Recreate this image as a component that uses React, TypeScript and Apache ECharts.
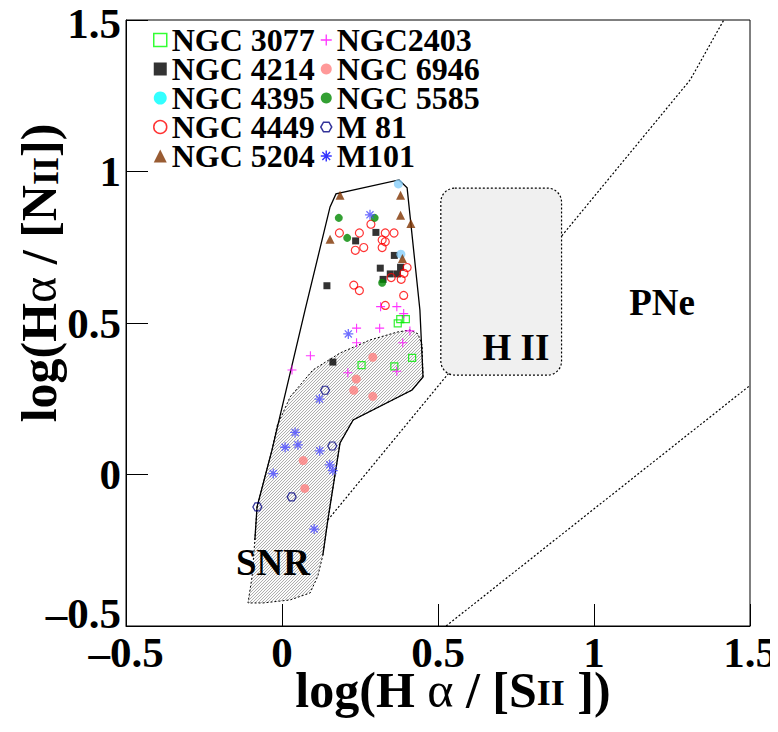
import React, { useEffect, useRef } from "react";
import * as echarts from "echarts";

const FONT = '"Liberation Serif", "DejaVu Serif", serif';

// ---- data (log Ha/[SII], log Ha/[NII]) ----
const ngc3077 = [[0.379, 0.513], [0.397, 0.513], [0.371, 0.499], [0.255, 0.361], [0.36, 0.357], [0.417, 0.385]];
const ngc4214 = [[0.301, 0.799], [0.236, 0.771], [0.36, 0.723], [0.38, 0.684], [0.315, 0.681], [0.347, 0.662], [0.37, 0.662], [0.324, 0.644], [0.144, 0.623], [0.163, 0.371]];
const ngc4395 = [[0.373, 0.959], [0.381, 0.727]];
const ngc4449 = [[0.285, 0.826], [0.184, 0.797], [0.248, 0.797], [0.331, 0.797], [0.359, 0.797], [0.321, 0.774], [0.331, 0.768], [0.235, 0.74], [0.262, 0.749], [0.321, 0.749], [0.401, 0.683], [0.391, 0.664], [0.35, 0.65], [0.382, 0.644], [0.23, 0.625], [0.248, 0.607], [0.39, 0.591], [0.331, 0.558]];
const ngc5204 = [[0.186, 0.922], [0.38, 0.922], [0.38, 0.856], [0.413, 0.828], [0.154, 0.776], [0.386, 0.713]];
const ngc2403 = [[0.316, 0.554], [0.368, 0.554], [0.39, 0.531], [0.239, 0.483], [0.313, 0.483], [0.41, 0.474], [0.239, 0.435], [0.387, 0.435], [0.091, 0.392], [0.032, 0.345], [0.211, 0.336], [0.368, 0.341]];
const ngc6946 = [[0.291, 0.387], [0.238, 0.315], [0.23, 0.278], [0.291, 0.258], [0.068, 0.046], [0.073, -0.046]];
const ngc5585 = [[0.182, 0.847], [0.297, 0.847], [0.209, 0.781], [0.321, 0.633]];
const m81 = [[0.138, 0.278], [0.161, 0.094], [0.031, -0.074], [-0.079, -0.107]];
const m101 = [[0.282, 0.857], [0.2125, 0.464], [0.12, 0.249], [0.042, 0.139], [0.01, 0.09], [0.051, 0.098], [0.121, 0.078], [-0.028, 0.003], [0.153, 0.032], [0.163, 0.013], [0.103, -0.18]];

// ---- diagnostic regions ----
const snrRegion = [[-0.016, 0.16], [0.026, 0.256], [0.099, 0.345], [0.186, 0.401], [0.282, 0.444], [0.369, 0.47], [0.41, 0.477], [0.436, 0.464], [0.449, 0.427], [0.452, 0.322], [0.417, 0.279], [0.228, 0.18], [0.186, 0.104], [0.147, -0.15], [0.131, -0.266], [0.115, -0.335], [0.09, -0.391], [0.026, -0.414], [-0.061, -0.424], [-0.109, -0.424], [-0.096, -0.338], [-0.087, -0.216], [-0.08, -0.107], [-0.032, 0.081]];
const outerBoundary = [[0.131, -0.266], [0.147, -0.15], [0.186, 0.104], [0.228, 0.18], [0.417, 0.279], [0.452, 0.322], [0.442, 0.543], [0.401, 0.946], [0.375, 0.972], [0.173, 0.926], [0.154, 0.883], [0.074, 0.543], [-0.032, 0.081], [-0.08, -0.107], [-0.087, -0.216]];
const hiiCorners = [[0.509, 0.945], [0.896, 0.328]];
const pneLine1 = [[0.147, -0.15], [1.308, 1.302], [1.416, 1.5]];
const pneLine2 = [[0.526, -0.5], [1.5, 0.294]];
const regionLabels = [
  { text: "H II", x: 0.75, y: 0.4175 },
  { text: "PNe", x: 1.218, y: 0.569 },
  { text: "SNR", x: -0.029, y: -0.292 },
];

const xTicks = { min: -0.5, max: 1.5, step: 0.5 };
const yTicks = { min: -0.5, max: 1.5, step: 0.5 };

const PLUS = "path://M-1,-0.12L-0.12,-0.12L-0.12,-1L0.12,-1L0.12,-0.12L1,-0.12L1,0.12L0.12,0.12L0.12,1L-0.12,1L-0.12,0.12L-1,0.12Z";
const HEX = "path://M0.5,0L1.5,0L2,0.866L1.5,1.732L0.5,1.732L0,0.866Z";

function asteriskPath(): string {
  const t = 0.13;
  const parts: string[] = [];
  [0, 45, 90, 135].forEach((deg) => {
    const a = (deg * Math.PI) / 180;
    const c = Math.cos(a), s = Math.sin(a);
    const pts = [[-1, -t], [1, -t], [1, t], [-1, t]].map(([u, v]) => [u * c - v * s, u * s + v * c]);
    parts.push("M" + pts.map((p) => p[0].toFixed(3) + "," + p[1].toFixed(3)).join("L") + "Z");
  });
  return "path://" + parts.join("");
}
const ASTER = asteriskPath();

function fmtX(v: number): string {
  return v < 0 ? "\u2013" + String(Math.abs(v)) : String(v);
}
function fmtY(v: number): string {
  if (v < 0) return "{low|\u2013" + String(Math.abs(v)) + "}";
  if (v >= 1.5) return "{top|" + String(v) + "}";
  return String(v);
}

export default function App() {
  const ref = useRef<HTMLDivElement>(null);
  useEffect(() => {
    if (!ref.current) return;
    const chart = echarts.init(ref.current, undefined, { renderer: "svg" });

    const cv = document.createElement("canvas");
    cv.width = 6;
    cv.height = 6;
    const ctx = cv.getContext("2d")!;
    ctx.fillStyle = "#fbfbfb";
    ctx.fillRect(0, 0, 6, 6);
    ctx.strokeStyle = "#9a9a9a";
    ctx.lineWidth = 0.8;
    for (let c = 0; c <= 12; c += 3) {
      ctx.beginPath();
      ctx.moveTo(c - 6, 6);
      ctx.lineTo(c, 0);
      ctx.stroke();
    }
    const hatch = { image: cv, repeat: "repeat" };

    const dotted = { stroke: "#000", lineWidth: 1.2, lineDash: [2, 2], fill: "none" };

    const shapeSeries = (render: (api: any) => any) => ({
      type: "custom",
      coordinateSystem: "cartesian2d",
      silent: true,
      data: [[0, 0]],
      renderItem: (_p: any, api: any) => render(api),
    });

    const textStyleLegend = { fontFamily: FONT, fontWeight: "bold", fontSize: 32, color: "#000", lineHeight: 28 };

    const legendCol1 = [
      { name: "NGC 3077", icon: "rect", itemStyle: { color: "rgba(0,0,0,0)", borderColor: "#00ff00", borderWidth: 1.5 } },
      { name: "NGC 4214", icon: "rect", itemStyle: { color: "#000" } },
      { name: "NGC 4395", icon: "circle", itemStyle: { color: "#00ffff" } },
      { name: "NGC 4449", icon: "circle", itemStyle: { color: "rgba(0,0,0,0)", borderColor: "#ff0000", borderWidth: 1.5 } },
      { name: "NGC 5204", icon: "triangle", itemStyle: { color: "#7f3300" } },
    ];
    const legendCol2 = [
      { name: "NGC2403", icon: PLUS, itemStyle: { color: "#ff00ff" } },
      { name: "NGC 6946", icon: "circle", itemStyle: { color: "#ff8080" } },
      { name: "NGC 5585", icon: "circle", itemStyle: { color: "#008800" } },
      { name: "M 81", icon: HEX, itemStyle: { color: "rgba(0,0,0,0)", borderColor: "#000080", borderWidth: 1.5 } },
      { name: "M101", icon: ASTER, itemStyle: { color: "#0000ff" } },
    ];

    const scatter = (name: string, data: number[][], symbol: string, size: any, itemStyle: any) => ({
      type: "scatter",
      name,
      data,
      symbol,
      symbolSize: size,
      itemStyle,
      z: 5,
    });

    const labelBase = { fontFamily: FONT, fontWeight: "bold", fontSize: 43, color: "#000", lineHeight: 30 };
    const axisCommon = {
      type: "value",
      splitLine: { show: false },
      axisLine: { onZero: false, lineStyle: { color: "#000", width: 1 } },
      axisTick: { inside: true, length: 22, lineStyle: { color: "#000", width: 1 } },
      nameMoveOverlap: false,
    };

    const richX = {
      n: { fontFamily: FONT, fontWeight: "bold", fontSize: 50, lineHeight: 42, color: "#000" },
      g: { fontFamily: FONT, fontWeight: "normal", fontSize: 50, lineHeight: 42, color: "#000" },
      s: { fontFamily: FONT, fontWeight: "bold", fontSize: 36, lineHeight: 42, color: "#000", verticalAlign: "bottom" },
    };
    const richY = {
      n: { fontFamily: FONT, fontWeight: "bold", fontSize: 50, color: "#000" },
      g: { fontFamily: FONT, fontWeight: "normal", fontSize: 50, color: "#000" },
      s: { fontFamily: FONT, fontWeight: "bold", fontSize: 36, color: "#000", verticalAlign: "bottom" },
    };

    chart.setOption({
      animation: false,
      backgroundColor: "#fff",
      grid: { left: 126, right: 28, top: 20, bottom: 106, outerBoundsMode: "none", containLabel: false, show: true, borderColor: "#000", borderWidth: 1, backgroundColor: "rgba(0,0,0,0)" },
      legend: [
        { orient: "vertical", left: 153, top: 24, padding: 0, itemGap: -3, itemWidth: 13, itemHeight: 13, selectedMode: false, textStyle: textStyleLegend, data: legendCol1 },
        { orient: "vertical", left: 320, top: 24, padding: 0, itemGap: -3, itemWidth: 11, itemHeight: 11, selectedMode: false, textStyle: textStyleLegend, data: legendCol2 },
      ],
      xAxis: {
        ...axisCommon,
        min: xTicks.min,
        max: xTicks.max,
        interval: xTicks.step,
        axisLabel: { ...labelBase, formatter: fmtX, margin: 11 },
        name: "{n|log(H }{g|\u03b1}{n| / [S}{s|II}{n| ])}",
        nameLocation: "middle",
        nameGap: 43,
        nameTextStyle: { rich: richX, lineHeight: 42, padding: [0, 0, 0, 30] },
      },
      yAxis: {
        ...axisCommon,
        min: yTicks.min,
        max: yTicks.max,
        interval: yTicks.step,
        axisLabel: {
          ...labelBase,
          formatter: fmtY,
          margin: 5,
          rich: { low: { ...labelBase, padding: [0, 0, 26, 0] }, top: { ...labelBase, padding: [6, 0, 0, 0] } },
        },
        name: "{n|log(H}{g|\u03b1}{n| / [N}{s|II}{n|])}",
        nameLocation: "middle",
        nameRotate: 90,
        nameGap: 62,
        nameTextStyle: { rich: richY, padding: [0, 0, 0, 100] },
      },
      series: [
        shapeSeries((api) => ({
          type: "polygon",
          shape: { points: snrRegion.map((p) => api.coord(p)) },
          style: { fill: hatch, stroke: "#000", lineWidth: 1, lineDash: [2, 2] },
        })),
        shapeSeries((api) => ({
          type: "polyline",
          shape: { points: outerBoundary.map((p) => api.coord(p)) },
          style: { stroke: "#000", lineWidth: 1.3, fill: "none" },
        })),
        shapeSeries((api) => ({ type: "polyline", shape: { points: pneLine1.map((p) => api.coord(p)) }, style: dotted })),
        shapeSeries((api) => ({ type: "polyline", shape: { points: pneLine2.map((p) => api.coord(p)) }, style: dotted })),
        shapeSeries((api) => {
          const a = api.coord(hiiCorners[0]);
          const b = api.coord(hiiCorners[1]);
          return {
            type: "rect",
            shape: { x: a[0], y: a[1], width: b[0] - a[0], height: b[1] - a[1], r: 14 },
            style: { fill: "#f0f0f0", stroke: "#000", lineWidth: 1.2, lineDash: [2, 2] },
          };
        }),
        shapeSeries((api) => ({
          type: "group",
          children: regionLabels.map((l) => {
            const p = api.coord([l.x, l.y]);
            return {
              type: "text",
              x: p[0],
              y: p[1],
              style: { text: l.text, fontFamily: FONT, fontWeight: "bold", fontSize: 37, fill: "#000", align: "center", verticalAlign: "middle" },
            };
          }),
        })),
        scatter("NGC 3077", ngc3077, "rect", 7, { color: "rgba(0,0,0,0)", borderColor: "#00ee00", borderWidth: 1.2 }),
        scatter("NGC 4214", ngc4214, "rect", 7, { color: "#000" }),
        scatter("NGC 4395", ngc4395, "circle", 9, { color: "#87cefa" }),
        scatter("NGC 4449", ngc4449, "circle", 8, { color: "rgba(0,0,0,0)", borderColor: "#ff0000", borderWidth: 1.2 }),
        scatter("NGC 5204", ngc5204, "triangle", 9, { color: "#7f3300" }),
        scatter("NGC2403", ngc2403, PLUS, 9, { color: "#ff00ff" }),
        scatter("NGC 6946", ngc6946, "circle", 9, { color: "#ff8080" }),
        scatter("NGC 5585", ngc5585, "circle", 8, { color: "#008800" }),
        scatter("M 81", m81, HEX, [9, 8], { color: "rgba(0,0,0,0)", borderColor: "#000080", borderWidth: 1.2 }),
        scatter("M101", m101, ASTER, 10, { color: "#4a4aff" }),
      ],
    });
    return () => chart.dispose();
  }, []);
  return <div ref={ref} style={{ width: 778, height: 732, margin: -8 }} />;
}
